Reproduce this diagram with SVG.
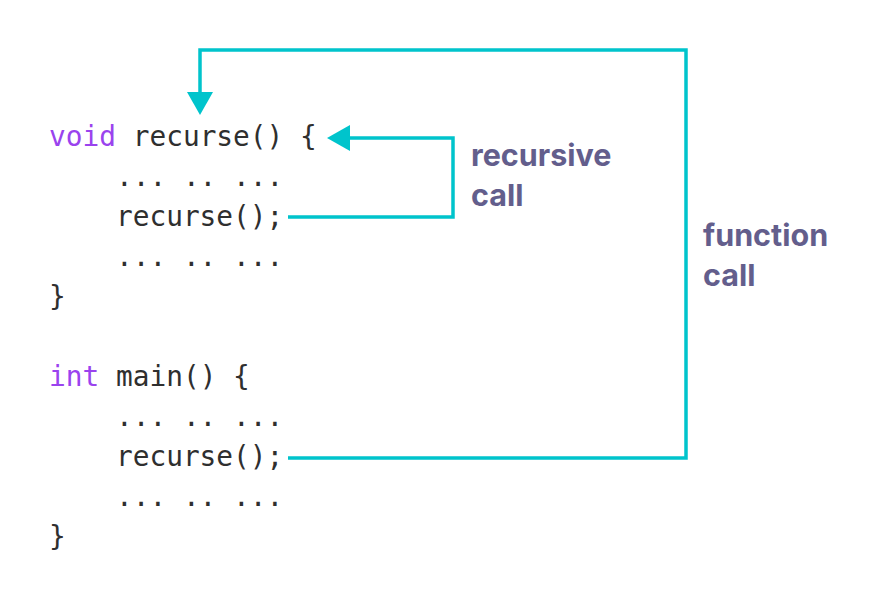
<svg xmlns="http://www.w3.org/2000/svg" width="880" height="604" viewBox="0 0 880 604">
<style>
.code{font-family:"DejaVu Sans Mono",monospace;font-size:27.8px;fill:#2f2f2f}
.kw{fill:#9a43ee}
.lbl{font-family:Inter,"Noto Sans",sans-serif;font-weight:700;font-size:30.5px;fill:#635e8c}
.ln{fill:none;stroke:#00c4cc;stroke-width:3.5}
.ah{fill:#00c4cc}
</style>
<rect width="880" height="604" fill="#fff"/>
<g id="code-recurse">
<text class="code" x="49" y="146"><tspan class="kw">void</tspan> recurse() {</text>
<text class="code" x="49" y="186" xml:space="preserve">    ... .. ...</text>
<text class="code" x="49" y="226" xml:space="preserve">    recurse();</text>
<text class="code" x="49" y="266" xml:space="preserve">    ... .. ...</text>
<text class="code" x="49" y="306">}</text>
</g>
<g id="code-main">
<text class="code" x="49" y="386"><tspan class="kw">int</tspan> main() {</text>
<text class="code" x="49" y="426" xml:space="preserve">    ... .. ...</text>
<text class="code" x="49" y="466" xml:space="preserve">    recurse();</text>
<text class="code" x="49" y="506" xml:space="preserve">    ... .. ...</text>
<text class="code" x="49" y="546">}</text>
</g>
<g id="label-recursive">
<text class="lbl" x="471" y="166">recursive</text>
<text class="lbl" x="471" y="206">call</text>
</g>
<g id="label-function">
<text class="lbl" x="703" y="246">function</text>
<text class="lbl" x="703" y="286">call</text>
</g>
<g id="connectors">
<polyline class="ln" points="288,217 453,217 453,138 348,138"/>
<polygon class="ah" points="327,138 350,125 350,151"/>
<polyline class="ln" points="288,458 686,458 686,50 200,50 200,94"/>
<polygon class="ah" points="200,115 187,92 213,92"/>
</g>
</svg>
